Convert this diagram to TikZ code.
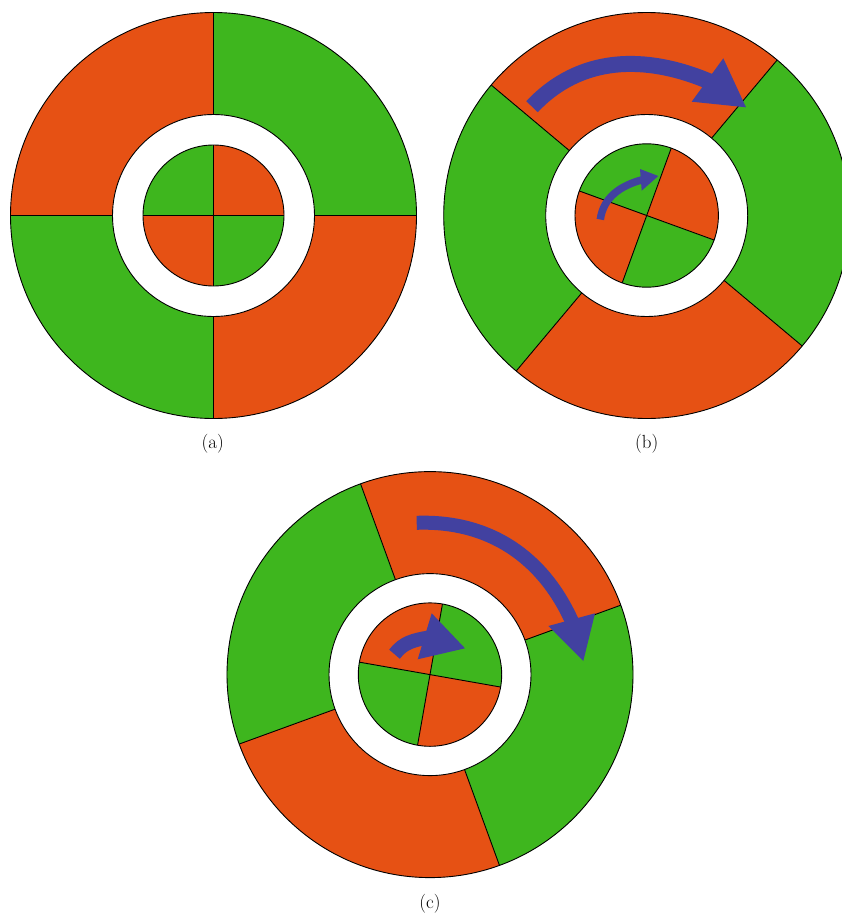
\documentclass[tikz,border=0pt]{standalone}
\usetikzlibrary{calc}
\definecolor{orng}{RGB}{230,81,20}
\definecolor{grn}{RGB}{62,182,30}
\definecolor{arw}{RGB}{66,65,160}
\tikzset{
  rim/.style={draw=black,line width=0.9pt},
  lbl/.style={font=\fontsize{19}{22}\selectfont, inner sep=0pt},
  shaft/.style={draw=arw, line cap=butt},
  head/.style={fill=arw}
}
% #1,#2 centre; #3 outer rotation (cw); #4 inner rotation (cw); #5 inner radius
\newcommand\wheel[5]{%
\begin{scope}[shift={(#1,#2)}]
  \foreach \k/\col in {0/orng,1/grn,2/orng,3/grn}{
    \fill[\col] (0,0) -- ({90-#3+90*\k}:203) arc[start angle={90-#3+90*\k}, delta angle=90, radius=203] -- cycle;}
  \foreach \k in {0,1,2,3}{\draw[rim] ({90*\k-#3}:101) -- ({90*\k-#3}:203);}
  \draw[rim] (0,0) circle[radius=203];
  \filldraw[rim, fill=white] (0,0) circle[radius=101];
  \foreach \k/\col in {0/grn,1/orng,2/grn,3/orng}{
    \fill[\col] (0,0) -- ({90-#4+90*\k}:#5) arc[start angle={90-#4+90*\k}, delta angle=90, radius=#5] -- cycle;}
  \foreach \k in {0,1,2,3}{\draw[rim] (0,0) -- ({90*\k-#4}:#5);}
  \draw[rim] (0,0) circle[radius=#5];
\end{scope}}
\begin{document}
\begin{tikzpicture}[x=1pt,y=1pt]
\useasboundingbox (0,0) rectangle (842,-913);

% (a)
\wheel{213.5}{-215.5}{0}{0}{70.5}
% (b)
\wheel{646.7}{-215.5}{40}{20}{71.7}
% (c)
\wheel{430}{-674.6}{70}{100}{71.7}

% arrows (b)
\coordinate (bot) at (532,-106.7);
\coordinate (boe) at (709.9,-81.7);
\draw[shaft, line width=16pt] (bot) to[out=46.7,in=157] (boe);
\fill[head] (691.7,-101.7) -- (723.3,-58.3) -- (746,-107.3) -- cycle;

\coordinate (bit) at (600.3,-219.5);
\coordinate (bie) at (642.8,-179.6);
\draw[shaft, line width=7.5pt] (bit) to[out=82,in=195] (bie);
\fill[head] (640,-169) -- (641.7,-190.7) -- (658.3,-176) -- cycle;

% arrows (c)
\coordinate (cot) at (416.7,-522.8);
\coordinate (coe) at (572.5,-622.6);
\draw[shaft, line width=14pt] (cot) to[out=2,in=114] (coe);
\fill[head] (548.3,-626) -- (595,-613.3) -- (583.3,-661) -- cycle;

\coordinate (cit) at (394.5,-654.2);
\coordinate (cie) at (428.5,-637.5);
\draw[shaft, line width=14pt] (cit) to[out=53,in=190] (cie);
\fill[head] (417.7,-659.3) -- (431.7,-613.3) -- (465,-648.3) -- cycle;

% labels
\node[lbl] (la) at (212.8,-443.3) {(a)};
\node[lbl] (lb) at (646.7,-443.3) {(b)};
\node[lbl] (lc) at (430,-904) {(c)};
\end{tikzpicture}
\end{document}
